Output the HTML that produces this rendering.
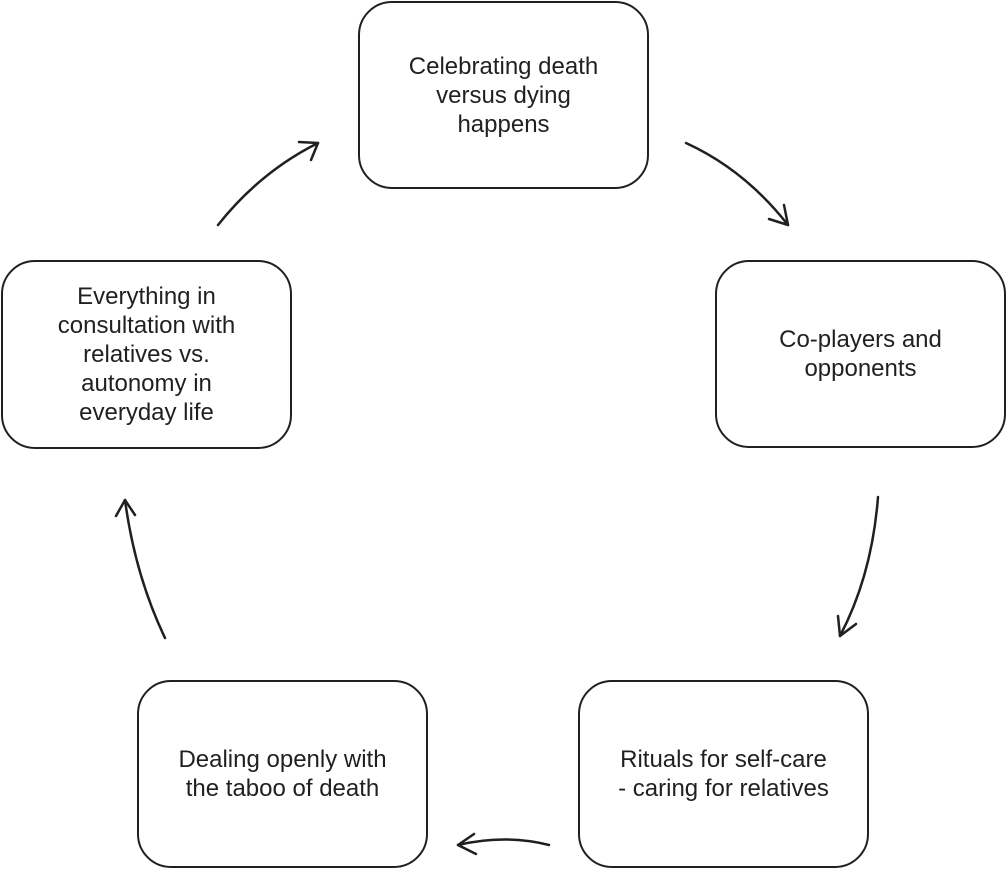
<!DOCTYPE html>
<html><head><style>
body{margin:0;background:#fff;width:1007px;height:870px;position:relative;font-family:"Liberation Sans",Arial,sans-serif;}
.b{position:absolute;box-sizing:border-box;border:2.5px solid #231f20;border-radius:34px;display:flex;align-items:center;justify-content:center;text-align:center;font-size:24px;line-height:29px;color:#231f20;}
svg{position:absolute;left:0;top:0}
</style></head><body>
<div class="b" style="left:358px;top:1px;width:291px;height:188px;">Celebrating death<br>versus dying<br>happens</div>
<div class="b" style="left:715px;top:260px;width:291px;height:188px;">Co-players and<br>opponents</div>
<div class="b" style="left:578px;top:680px;width:291px;height:188px;">Rituals for self-care<br>- caring for relatives</div>
<div class="b" style="left:137px;top:680px;width:291px;height:188px;">Dealing openly with<br>the taboo of death</div>
<div class="b" style="left:1px;top:260px;width:291px;height:189px;">Everything in<br>consultation with<br>relatives vs.<br>autonomy in<br>everyday life</div>
<svg width="1007" height="870" fill="none" stroke="#231f20" stroke-width="2.5" stroke-linecap="round" stroke-linejoin="round">
<path d="M686 143 Q745 170 788 225"/><path d="M769 219 L788 225 L784 205"/>
<path d="M878 497 Q872 575 840 636"/><path d="M838 616 L840 636 L856 624"/>
<path d="M549 845 Q505 834 458 845"/><path d="M474 834 L458 845 L476 854"/>
<path d="M165 638 Q135 575 125 500"/><path d="M116 516 L125 500 L135 515"/>
<path d="M218 225 Q260 172 318 143"/><path d="M299 142 L318 143 L311 160"/>
</svg>
</body></html>
